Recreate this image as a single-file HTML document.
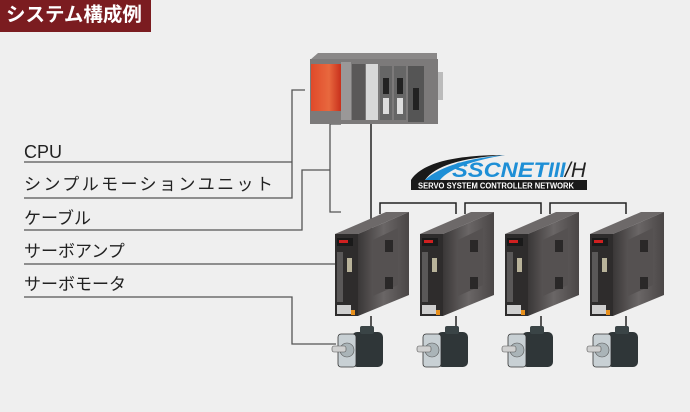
<!DOCTYPE html>
<html><head><meta charset="utf-8"><style>
html,body{margin:0;padding:0;background:#efefef;}
body{width:690px;height:412px;overflow:hidden;position:relative;font-family:"Liberation Sans","Noto Sans CJK JP",sans-serif;}
.hd{position:absolute;left:0;top:0;width:151px;height:32px;background:#7b1c20;color:#fff;font-weight:bold;font-size:19.5px;line-height:31px;padding-left:6px;box-sizing:border-box;font-family:"Liberation Sans","Noto Sans CJK JP",sans-serif;}
.lb{position:absolute;left:24px;font-size:17px;color:#222;line-height:18px;white-space:nowrap;}
</style></head><body>
<div class="hd">システム構成例</div>
<div class="lb" style="top:143px;font-size:18px">CPU</div>
<div class="lb" style="top:176px;letter-spacing:2.4px">シンプルモーションユニット</div>
<div class="lb" style="top:210px">ケーブル</div>
<div class="lb" style="top:243px">サーボアンプ</div>
<div class="lb" style="top:276px">サーボモータ</div>
<svg width="690" height="412" style="position:absolute;left:0;top:0" xmlns="http://www.w3.org/2000/svg">
<defs>
<linearGradient id="side" x1="0" x2="1"><stop offset="0" stop-color="#3a3737"/><stop offset="0.5" stop-color="#6a6666"/><stop offset="1" stop-color="#4a4646"/></linearGradient>
<linearGradient id="red" x1="0" x2="1"><stop offset="0" stop-color="#e04a2a"/><stop offset="0.6" stop-color="#e8683e"/><stop offset="1" stop-color="#c8301c"/></linearGradient>
<g id="amp">
<polygon points="335,234 358,234 409,212 386,212" fill="#6d6969"/>
<polygon points="358,234 409,212 409,295 358,316" fill="url(#side)"/>
<rect x="335" y="234" width="23" height="82" fill="#2e2c2c"/>
<rect x="337" y="238" width="16" height="8" fill="#1a1a1a"/>
<rect x="339" y="240" width="9" height="3" fill="#d02020"/>
<rect x="337" y="252" width="6" height="50" fill="#5a5858"/>
<rect x="347" y="258" width="5" height="14" fill="#b9b39a"/>
<rect x="337" y="305" width="14" height="9" fill="#cfcfcf"/>
<rect x="351" y="310" width="4" height="5" fill="#e8901c"/>
<polygon points="373,240 398,228 398,285 373,296" fill="#555151"/>
<rect x="385" y="240" width="8" height="12" fill="#2a2828"/>
<rect x="385" y="277" width="8" height="12" fill="#2a2828"/>
<line x1="371" y1="316" x2="371" y2="328" stroke="#222" stroke-width="1.5"/>
<rect x="352" y="332" width="31" height="35" rx="5" fill="#2f3638"/>
<rect x="360" y="326" width="14" height="8" rx="2" fill="#3a4446"/>
<rect x="338" y="334" width="18" height="33" rx="3" fill="#c8d0d4" stroke="#333" stroke-width="0.8"/>
<circle cx="347" cy="350" r="7" fill="#aab4b8" stroke="#555" stroke-width="0.6"/>
<rect x="332" y="346" width="14" height="6" rx="2" fill="#d0d0d0" stroke="#555" stroke-width="0.6"/>
</g>
</defs>
<g fill="none" stroke="#555" stroke-width="1.3">
<polyline points="24,162 292,162"/>
<polyline points="24,198 292,198 292,90 305,90"/>
<polyline points="24,230 302,230 302,170 330,170"/>
<polyline points="341,124 330,124 330,212 341,212"/>
<polyline points="24,264 336,264"/>
<polyline points="24,297 292,297 292,344 336,344"/>
</g>
<g fill="none" stroke="#222" stroke-width="1.5">
<line x1="371" y1="123" x2="371" y2="232"/>
<polyline points="380,214 380,203 456,203 456,214"/>
<polyline points="465,214 465,203 541,203 541,214"/>
<polyline points="550,214 550,203 626,203 626,214"/>
</g>
<polygon points="310,60 318,53 437,53 437,60" fill="#8a8888"/>
<rect x="310" y="59" width="128" height="65" fill="#7c7a7a"/>
<rect x="311" y="64" width="30" height="47" fill="url(#red)"/>
<rect x="341" y="62" width="10" height="58" fill="#9a9898"/>
<rect x="352" y="64" width="13" height="56" fill="#5a5858"/>
<rect x="366" y="64" width="12" height="56" fill="#d8d8d8"/>
<rect x="380" y="66" width="12" height="54" fill="#666"/>
<rect x="383" y="78" width="6" height="16" fill="#222"/>
<rect x="383" y="98" width="6" height="16" fill="#ddd"/>
<rect x="394" y="66" width="12" height="54" fill="#666"/>
<rect x="397" y="78" width="6" height="16" fill="#222"/>
<rect x="397" y="98" width="6" height="16" fill="#ddd"/>
<rect x="408" y="66" width="16" height="56" fill="#555"/>
<rect x="413" y="88" width="6" height="22" fill="#222"/>
<rect x="438" y="72" width="5" height="28" fill="#bbb"/>
<use href="#amp"/>
<use href="#amp" x="85"/>
<use href="#amp" x="170"/>
<use href="#amp" x="255"/>
<path d="M411,180 C420,166 445,155 505,155 C460,158 435,166 425,180 Z" fill="#1a1a1a"/>
<path d="M425,180 C440,166 470,158 505,155 C475,160 450,168 440,180 Z" fill="#1e8fd6"/>
<text x="452" y="177" font-family="Liberation Sans,sans-serif" font-weight="bold" font-style="italic" font-size="21" fill="#1e8fd6" textLength="96" lengthAdjust="spacingAndGlyphs">SSCNET</text>
<text x="548" y="177" font-family="Liberation Sans,sans-serif" font-weight="bold" font-style="italic" font-size="21" fill="#1e8fd6">III</text>
<text x="565" y="177" font-family="Liberation Sans,sans-serif" font-style="italic" font-size="21" fill="#222">/H</text>
<rect x="411" y="180" width="176" height="10" fill="#1a1a1a"/>
<text x="418" y="188.5" font-family="Liberation Sans,sans-serif" font-weight="bold" font-size="8" fill="#fff" textLength="156" lengthAdjust="spacingAndGlyphs">SERVO SYSTEM CONTROLLER NETWORK</text>
</svg>
</body></html>
